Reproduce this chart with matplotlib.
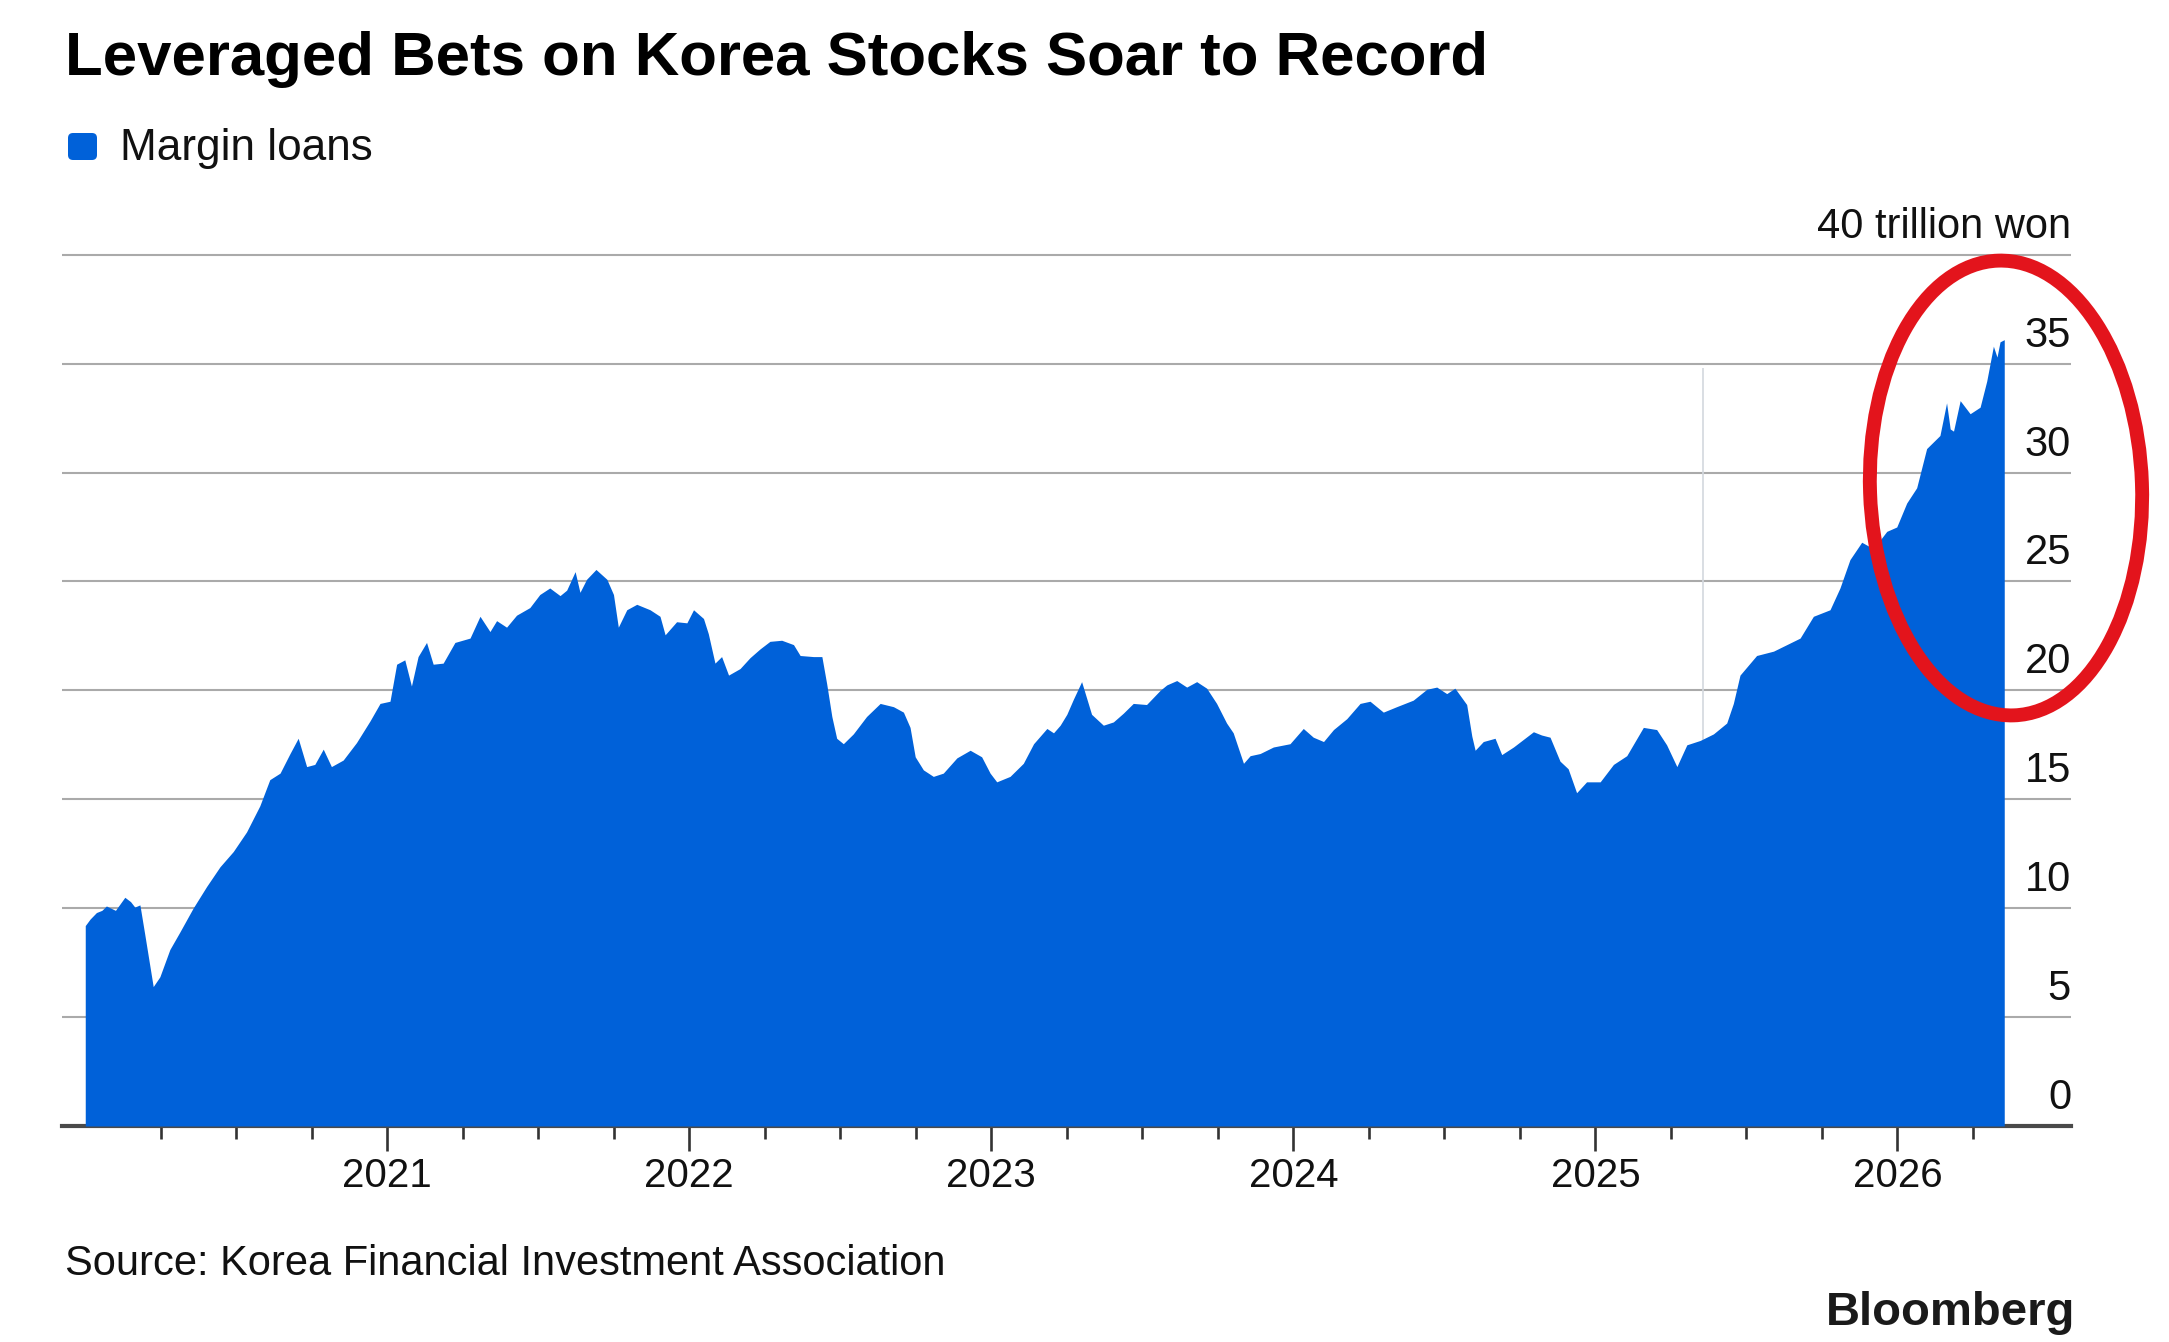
import matplotlib
matplotlib.use("Agg")
import matplotlib.pyplot as plt
from matplotlib.patches import Ellipse, FancyBboxPatch
from matplotlib.ticker import FixedLocator, NullFormatter
import matplotlib.transforms as mtransforms

# margin loans, trillion won (dates as decimal years)
dates = [
    2020.000, 2020.016, 2020.037, 2020.055, 2020.070, 2020.100, 2020.131, 2020.150,
    2020.164, 2020.181, 2020.197, 2020.225, 2020.247, 2020.280, 2020.313, 2020.357,
    2020.402, 2020.446, 2020.490, 2020.534, 2020.578, 2020.611, 2020.645, 2020.678,
    2020.705, 2020.733, 2020.760, 2020.788, 2020.815, 2020.854, 2020.898, 2020.943,
    2020.976, 2021.009, 2021.031, 2021.058, 2021.080, 2021.102, 2021.130, 2021.152,
    2021.185, 2021.224, 2021.274, 2021.307, 2021.340, 2021.362, 2021.395, 2021.428,
    2021.472, 2021.505, 2021.538, 2021.572, 2021.594, 2021.622, 2021.638, 2021.660,
    2021.691, 2021.727, 2021.749, 2021.765, 2021.793, 2021.826, 2021.870, 2021.903,
    2021.920, 2021.958, 2021.992, 2022.014, 2022.047, 2022.063, 2022.085, 2022.107,
    2022.130, 2022.168, 2022.201, 2022.234, 2022.267, 2022.306, 2022.345, 2022.367,
    2022.411, 2022.439, 2022.455, 2022.472, 2022.488, 2022.510, 2022.543, 2022.587,
    2022.632, 2022.676, 2022.709, 2022.731, 2022.748, 2022.775, 2022.808, 2022.841,
    2022.886, 2022.930, 2022.968, 2022.996, 2023.018, 2023.062, 2023.106, 2023.140,
    2023.184, 2023.206, 2023.228, 2023.250, 2023.272, 2023.299, 2023.332, 2023.371,
    2023.404, 2023.437, 2023.470, 2023.514, 2023.559, 2023.581, 2023.614, 2023.647,
    2023.680, 2023.713, 2023.746, 2023.779, 2023.801, 2023.835, 2023.857, 2023.890,
    2023.934, 2023.989, 2024.033, 2024.066, 2024.100, 2024.133, 2024.177, 2024.221,
    2024.254, 2024.298, 2024.342, 2024.397, 2024.442, 2024.475, 2024.508, 2024.535,
    2024.574, 2024.591, 2024.602, 2024.629, 2024.668, 2024.690, 2024.729, 2024.795,
    2024.822, 2024.850, 2024.883, 2024.910, 2024.938, 2024.971, 2025.016, 2025.060,
    2025.104, 2025.159, 2025.203, 2025.236, 2025.270, 2025.303, 2025.347, 2025.391,
    2025.435, 2025.457, 2025.479, 2025.534, 2025.590, 2025.634, 2025.678, 2025.722,
    2025.777, 2025.810, 2025.843, 2025.882, 2025.921, 2025.965, 2025.998, 2026.031,
    2026.064, 2026.097, 2026.141, 2026.163, 2026.175, 2026.186, 2026.208, 2026.241,
    2026.274, 2026.296, 2026.318, 2026.330, 2026.340, 2026.354,
]
loans = [
    9.2, 9.5, 9.8, 9.9, 10.1, 9.9, 10.5, 10.3,
    10.05, 10.15, 8.8, 6.4, 6.85, 8.1, 8.9, 10.0,
    11.0, 11.9, 12.6, 13.5, 14.7, 15.9, 16.2, 17.1,
    17.8, 16.5, 16.6, 17.3, 16.5, 16.8, 17.6, 18.6,
    19.4, 19.5, 21.2, 21.4, 20.2, 21.55, 22.2, 21.2,
    21.25, 22.2, 22.4, 23.4, 22.7, 23.2, 22.9, 23.45,
    23.8, 24.4, 24.7, 24.35, 24.6, 25.45, 24.5, 25.1,
    25.55, 25.1, 24.4, 22.9, 23.7, 23.95, 23.7, 23.4,
    22.55, 23.15, 23.1, 23.7, 23.3, 22.6, 21.25, 21.55,
    20.7, 21.0, 21.5, 21.9, 22.25, 22.3, 22.1, 21.6,
    21.55, 21.55, 20.3, 18.8, 17.8, 17.55, 18.0, 18.8,
    19.4, 19.25, 19.0, 18.3, 16.95, 16.35, 16.05, 16.2,
    16.9, 17.25, 16.95, 16.2, 15.8, 16.05, 16.65, 17.55,
    18.25, 18.05, 18.4, 18.9, 19.6, 20.4, 18.9, 18.4,
    18.55, 18.95, 19.4, 19.35, 20.0, 20.25, 20.45, 20.15,
    20.4, 20.1, 19.4, 18.5, 18.05, 16.65, 17.0, 17.1,
    17.4, 17.55, 18.25, 17.85, 17.65, 18.2, 18.7, 19.4,
    19.5, 19.0, 19.25, 19.55, 20.05, 20.15, 19.85, 20.1,
    19.35, 17.9, 17.25, 17.65, 17.8, 17.05, 17.4, 18.1,
    17.95, 17.85, 16.75, 16.4, 15.3, 15.8, 15.8, 16.6,
    17.0, 18.3, 18.2, 17.5, 16.5, 17.5, 17.7, 18.0,
    18.5, 19.4, 20.7, 21.6, 21.8, 22.1, 22.4, 23.4,
    23.7, 24.7, 26.0, 26.8, 26.5, 27.3, 27.5, 28.6,
    29.3, 31.1, 31.7, 33.2, 32.0, 31.9, 33.3, 32.7,
    33.0, 34.2, 35.8, 35.3, 36.0, 36.1,
]

years = [2021, 2022, 2023, 2024, 2025, 2026]
year_labels = ["2021", "2022", "2023", "2024", "2025", "2026"]
y_values = [0, 5, 10, 15, 20, 25, 30, 35, 40]
y_labels = ["0", "5", "10", "15", "20", "25", "30", "35", "40 trillion won"]
cursor_date = 2025.357

BLUE = "#0061d9"
W, H = 2169, 1342

plt.rcParams["font.family"] = ["Liberation Sans", "DejaVu Sans"]

fig = plt.figure(figsize=(W / 100, H / 100), dpi=100, facecolor="white")
ax = fig.add_axes([62 / W, (H - 1126) / H, (2071 - 62) / W, 880 / H])

ax.fill_between(dates, loans, 0, color=BLUE, lw=0, zorder=3)

# faint hover line seen in the original screenshot
ax.vlines(cursor_date, 17.7, 34.8, color="#d3d8de", lw=1.2, zorder=2)

ax.set_xlim(2019.923, 2026.575)
ax.set_ylim(0, 40.4)

for s in ["top", "left", "right"]:
    ax.spines[s].set_visible(False)
ax.spines["bottom"].set_color("#4a4a4a")
ax.spines["bottom"].set_linewidth(3)

ax.set_yticks(y_values[1:])
ax.yaxis.grid(True, color="#aaaaaa", lw=1.5, zorder=1)
ax.tick_params(axis="y", length=0, labelleft=False)

quarters = [y + q / 4 for y in range(2020, 2027) for q in (1, 2, 3)]
quarters = [q for q in quarters if q < dates[-1]]
ax.xaxis.set_major_locator(FixedLocator(years))
ax.xaxis.set_minor_locator(FixedLocator(quarters))
ax.set_xticklabels(year_labels)
ax.xaxis.set_minor_formatter(NullFormatter())
ax.tick_params(axis="x", which="major", length=18, width=1.9, color="#333333",
               labelsize=29, pad=4, labelcolor="#111111")
ax.tick_params(axis="x", which="minor", length=9, width=1.9, color="#333333")

# value labels sit just above their gridlines at the right edge
lab_tr = mtransforms.blended_transform_factory(ax.transAxes, ax.transData) + \
    mtransforms.ScaledTranslation(0, 0.17, fig.dpi_scale_trans)
for v, lab in zip(y_values, y_labels):
    ax.text(1.0, v, lab, transform=lab_tr, ha="right", va="baseline",
            fontsize=30, color="#111111", zorder=4)

fig.text(65 / W, 1 - 75 / H, "Leveraged Bets on Korea Stocks Soar to Record",
         fontsize=44.5, fontweight="bold", va="baseline", color="black")

fig.add_artist(FancyBboxPatch((68, H - 160), 29, 27,
                              boxstyle="round,pad=0,rounding_size=5",
                              transform=mtransforms.IdentityTransform(),
                              color=BLUE, lw=0))
fig.text(120 / W, 1 - 160 / H, "Margin loans", fontsize=31.8, va="baseline",
         color="#111111")

fig.text(65 / W, 1 - 1275 / H, "Source: Korea Financial Investment Association",
         fontsize=30, va="baseline", color="#111111")
fig.text(2075 / W, 1 - 1325 / H, "Bloomberg", fontsize=34, fontweight="bold",
         ha="right", va="baseline", color="#1a1a1a")

# red hand-drawn highlight around the recent surge
fig.add_artist(Ellipse((2006, H - 488), 272, 455, angle=2, fill=False,
                       edgecolor="#e3141c", lw=10,
                       transform=mtransforms.IdentityTransform()))

fig.savefig("out.png", dpi=100, facecolor="white")
